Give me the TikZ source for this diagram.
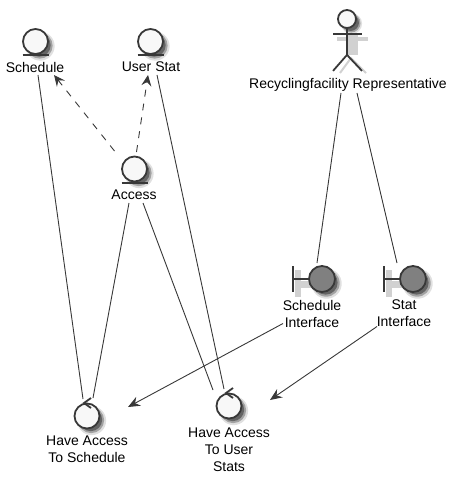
\documentclass[tikz,border=0pt]{standalone}
\usepackage{fontspec}
\setmainfont{Liberation Sans}
\usetikzlibrary{arrows.meta,shadows}
\definecolor{umlline}{HTML}{383838}
\definecolor{umlfill}{HTML}{F8F8F8}
\definecolor{umlgray}{HTML}{808080}
\tikzset{
  softshadow/.style={
    drop shadow={shadow xshift=4pt,shadow yshift=-4pt,shadow scale=1.16,fill=black,opacity=.12},
    drop shadow={shadow xshift=4pt,shadow yshift=-4pt,shadow scale=1.04,fill=black,opacity=.28},
    drop shadow={shadow xshift=4pt,shadow yshift=-4pt,shadow scale=.92,fill=black,opacity=.38}},
  iconcircle/.style={circle,draw=umlline,line width=1.8pt,fill=umlfill,inner sep=0pt,minimum size=25pt,softshadow},
  boundarycircle/.style={iconcircle,fill=umlgray},
  iconline/.style={draw=umlline,line width=1.8pt},
  shadowline/.style={draw=black!18,line width=#1},
  umltext/.style={font=\fontsize{14}{17}\selectfont,align=center,inner sep=0pt,text=black},
  assoc/.style={draw=umlline,line width=.9pt},
  depends/.style={assoc,dash pattern=on 7pt off 7pt,-{Stealth[length=11pt,width=10pt,inset=4pt]}},
  flow/.style={assoc,-{Stealth[length=12pt,width=10pt,inset=4pt]}}
}
\begin{document}
\begin{tikzpicture}[x=1pt,y=-1pt]
\useasboundingbox (0,0) rectangle (458,484);
% entities
\node[iconcircle] (schedule) at (35.5,41.5) {};
\node[iconcircle] (userstat) at (150.5,41.5) {};
\node[iconcircle] (access) at (134.5,169) {};
\draw[iconline] ([shift={(-13,13.5)}]schedule.center) -- ([shift={(13,13.5)}]schedule.center);
\draw[iconline] ([shift={(-13,13.5)}]userstat.center) -- ([shift={(13,13.5)}]userstat.center);
\draw[iconline] ([shift={(-13,14)}]access.center) -- ([shift={(13,14)}]access.center);
\node[umltext] (schedulelabel) at (35,67) {Schedule};
\node[umltext] (userstatlabel) at (151,67) {User Stat};
\node[umltext] (accesslabel) at (134,195) {Access};
% actor
\draw[shadowline=10pt] (353,35) -- (353,55);
\draw[shadowline=4pt] (337,39) -- (368,39);
\draw[shadowline=2pt] (340,73) -- (351,58) -- (366,73);
\node[iconcircle,minimum size=18pt] (rep) at (347,19) {};
\draw[iconline] (rep.south) -- ++(0,26) coordinate (hip);
\draw[iconline] ([shift={(-14,15)}]rep.center) -- ([shift={(15,15)}]rep.center);
\draw[iconline] (hip) -- ++(-14,16);
\draw[iconline] (hip) -- ++(15,16);
\node[umltext] (replabel) at (348,85) {Recyclingfacility Representative};
% boundaries
\draw[shadowline=6pt] (298,270) -- (298,297);
\draw[shadowline=7pt] (298,284) -- (314,284);
\draw[shadowline=6pt] (389,270) -- (389,297);
\draw[shadowline=7pt] (389,284) -- (405,284);
\node[boundarycircle,minimum size=26pt] (schedif) at (322,279) {};
\node[boundarycircle,minimum size=26pt] (statif) at (413,279) {};
\draw[iconline] ([shift={(-29,-13)}]schedif.center) -- ([shift={(-29,13)}]schedif.center);
\draw[iconline] ([shift={(-29,0)}]schedif.center) -- (schedif.west);
\draw[iconline] ([shift={(-29,-13)}]statif.center) -- ([shift={(-29,13)}]statif.center);
\draw[iconline] ([shift={(-29,0)}]statif.center) -- (statif.west);
\node[umltext] (schediflabel) at (312,313.5) {Schedule\\Interface};
\node[umltext] (statiflabel) at (404,313.5) {Stat\\Interface};
% controls
\node[iconcircle] (accsched) at (87,416) {};
\node[iconcircle] (accstats) at (229,406) {};
\draw[iconline] ([shift={(4,-18)}]accsched.center) -- ([shift={(-3,-13)}]accsched.center) -- ([shift={(4,-8)}]accsched.center);
\draw[iconline] ([shift={(4,-18)}]accstats.center) -- ([shift={(-3,-13)}]accstats.center) -- ([shift={(4,-8)}]accstats.center);
\node[umltext] (accschedlabel) at (87,449.5) {Have Access\\To Schedule};
\node[umltext] (accstatslabel) at (229,449.5) {Have Access\\To User\\Stats};
% connectors
\draw[assoc] ([shift={(3,8)}]schedulelabel.center) -- ([shift={(-4,-17)}]accsched.center);
\draw[assoc] ([shift={(-5,8)}]accesslabel.center) -- ([shift={(6,-18)}]accsched.center);
\draw[assoc] ([shift={(9,8)}]accesslabel.center) -- ([shift={(-16,-16)}]accstats.center);
\draw[assoc] ([shift={(6,8)}]userstatlabel.center) -- ([shift={(-5,-17)}]accstats.center);
\draw[assoc] ([shift={(-7,8)}]replabel.center) -- ([shift={(-5,-16)}]schedif.center);
\draw[assoc] ([shift={(9,8)}]replabel.center) -- ([shift={(-16,-16)}]statif.center);
\draw[depends] ([shift={(-20,-18)}]access.center) -- ([shift={(19,8)}]schedulelabel.center);
\draw[depends] ([shift={(2,-17)}]access.center) -- ([shift={(-3,8)}]userstatlabel.center);
\draw[flow] ([shift={(-29,10)}]schediflabel.center) -- ([shift={(41,-9)}]accsched.center);
\draw[flow] ([shift={(-27,13)}]statiflabel.center) -- ([shift={(41,-6)}]accstats.center);
\end{tikzpicture}
\end{document}
